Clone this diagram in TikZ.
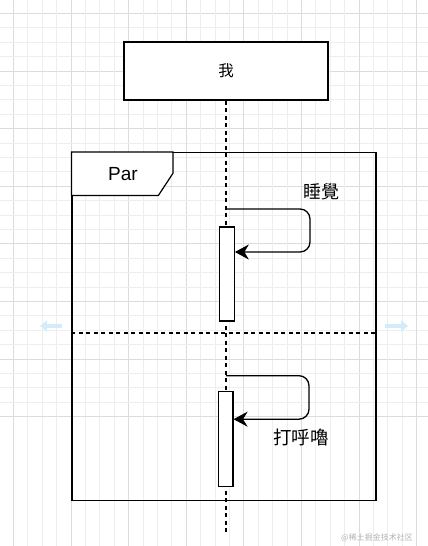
\documentclass[tikz,border=0pt]{standalone}
\usepackage{fontspec}
\setmainfont{Liberation Sans}
\newfontfamily\cjk{Noto Sans CJK TC}
\newfontfamily\cjksc{Noto Sans CJK SC}
\usetikzlibrary{arrows.meta}
\definecolor{gridminor}{RGB}{238,238,238}
\definecolor{gridmajor}{RGB}{220,220,220}
\definecolor{hoverblue}{RGB}{212,235,250}
\tikzset{
  box/.style = {draw, fill=white, line width=1.2pt, inner sep=0pt},
  lifeline/.style = {line width=1.2pt, dash pattern=on 4pt off 3.5pt},
  selfmsg/.style = {line width=1.3pt, rounded corners=10pt,
                    -{Stealth[length=14pt, width=15pt, inset=4.5pt]}},
  hover/.style = {hoverblue, line width=4.5pt,
                  -{Triangle[length=7pt, width=11pt]}}
}

\begin{document}
\begin{tikzpicture}[x=1pt, y=-1pt]
	\def \gap{14.4}
	\useasboundingbox (0,0) rectangle (428,546);
	
	% Grid
	\foreach \i in {0,...,29} {
		\pgfmathsetmacro{\p}{13.3+(\i-1)*\gap}
		\ifnum\numexpr\i-1-4*((\i-1+400)/4-100)\relax=0
			\draw[gridmajor, line width=0.6pt] (\p,0) -- (\p,546);
			\draw[gridmajor, line width=0.6pt] (0,\p) -- (428,\p);
		\else
			\draw[gridminor, line width=0.6pt] (\p,0) -- (\p,546);
			\draw[gridminor, line width=0.6pt] (0,\p) -- (428,\p);
		\fi
	}
	
	% Frame (par)
	\node[box, fill=none, minimum width=304pt, minimum height=348pt] (frame) at (224,326.5) {};
	\draw[line width=1.2pt, fill=white] (frame.north west) -- ++(101.5,0) -- ++(0,21.5)
		-- ++(-14.5,22) -- ++(-87,0) -- cycle;
	\node[font=\fontsize{19}{19}\selectfont] (par) at (123,174) {Par};
	\coordinate (divl) at (frame.west |- 0,333);
	\coordinate (divr) at (frame.east |- 0,333);
	\draw[lifeline] (divl) -- (divr);
	
	% Lifeline
	\node[box, minimum width=204pt, minimum height=58pt] (me) at (226,71) {};
	\coordinate (lifeend) at (226,535);
	\draw[lifeline] (me.south) -- (lifeend);
	\node[font=\cjk\fontsize{15.5}{15.5}\selectfont] (melabel) at (me.center) {我};
	
	% Activations
	\node[box, minimum width=14.5pt, minimum height=94pt] (act1) at (227,274) {};
	\node[box, minimum width=14.5pt, minimum height=95pt] (act2) at (225.7,439.2) {};
	
	% Self messages
	\coordinate (m1s) at (226,209);
	\coordinate (m1e) at ([yshift=22pt]act1.east);
	\draw[selfmsg] (m1s) -- ++(84,0) |- (m1e);
	\node[font=\cjk\fontsize{18}{18}\selectfont] (sleep) at (321,192) {睡覺};
	
	\coordinate (m2s) at (226,375.7);
	\coordinate (m2e) at ([yshift=20pt]act2.east);
	\draw[selfmsg] (m2s) -- ++(83,0) |- (m2e);
	\node[font=\cjk\fontsize{18.5}{18.5}\selectfont] (snore) at (301,437) {打呼嚕};
	
	% Hover arrows
	\coordinate (hl) at (40,326);
	\coordinate (hr) at (408,326);
	\draw[hover] (62,326) -- (hl);
	\draw[hover] (385,326) -- (hr);
	
	% Watermark
	\node[font=\cjksc\fontsize{8}{8}\selectfont, text=black!30] (mark) at (377,538) {@稀土掘金技术社区};
\end{tikzpicture}
\end{document}
